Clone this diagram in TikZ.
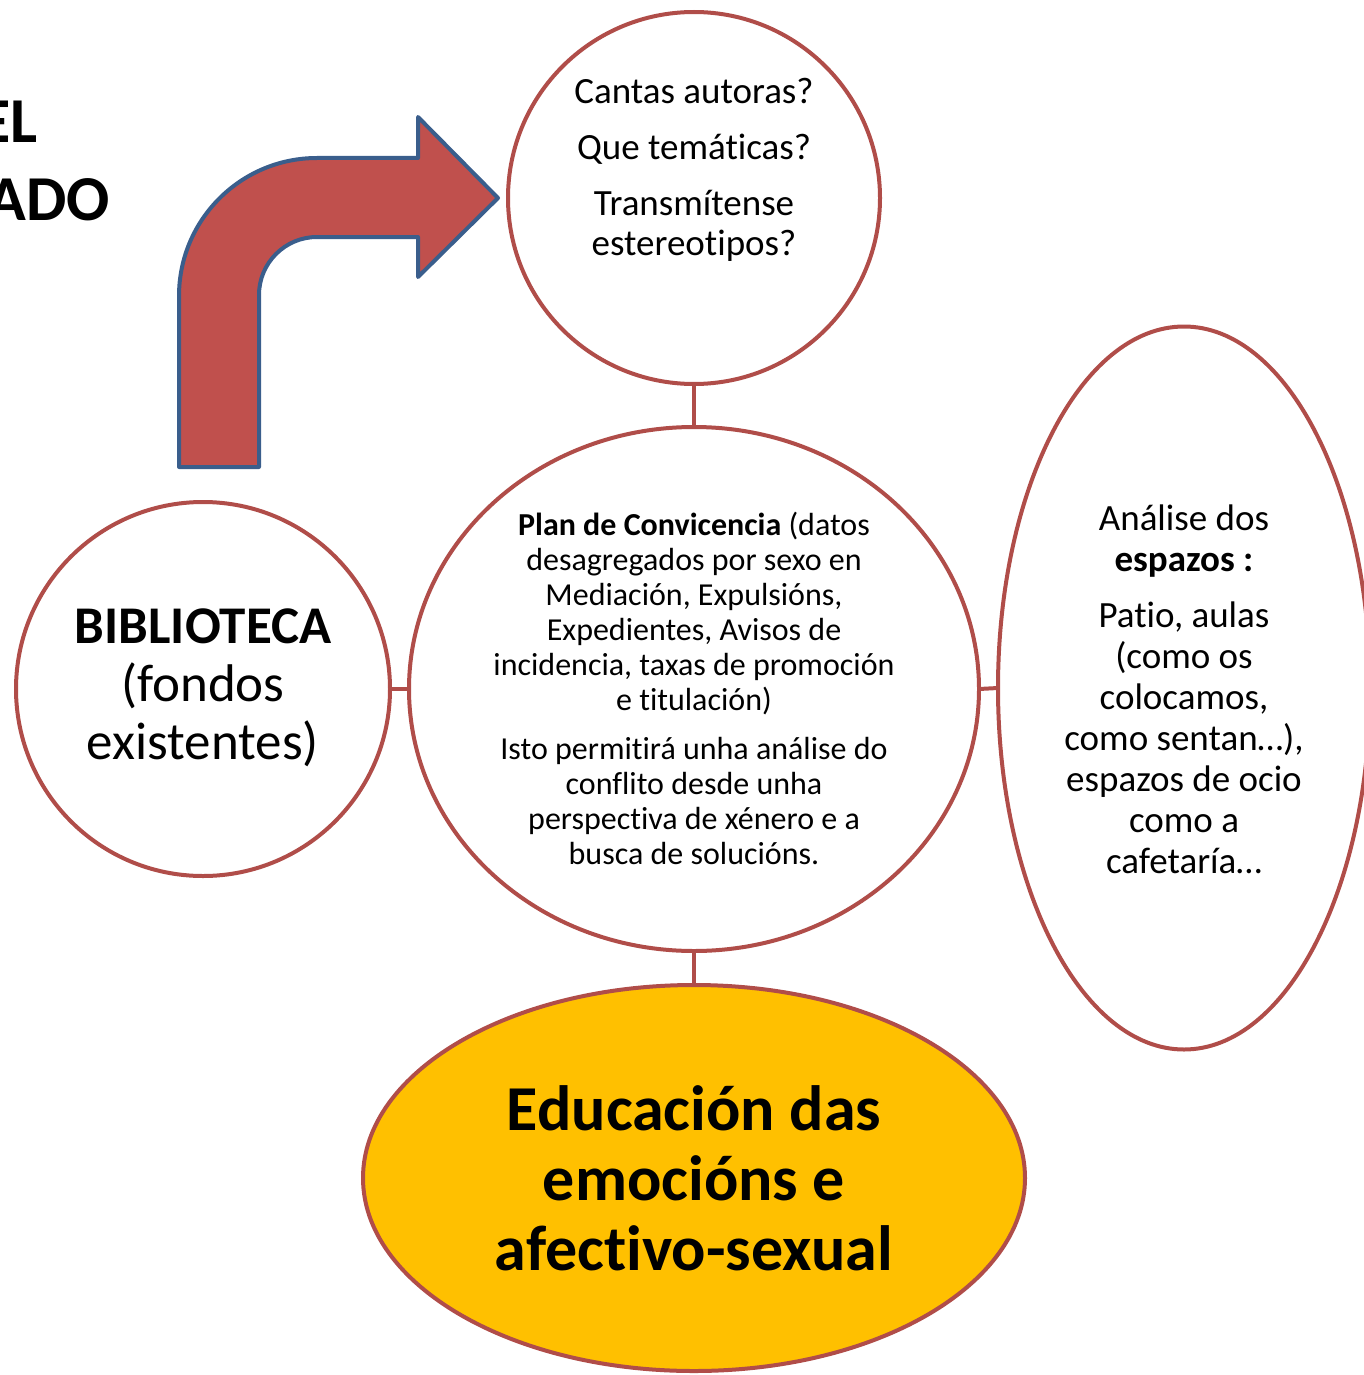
\documentclass[tikz,border=0pt]{standalone}
\usepackage{fontspec}
\setmainfont{Carlito}[RawFeature={-liga;-clig;-calt;-dlig;-rlig}]
\usetikzlibrary{shapes.geometric}
\definecolor{ringc}{HTML}{B04D49}
\definecolor{arrowred}{HTML}{C0504D}
\definecolor{arrowblue}{HTML}{3A5E8C}
\definecolor{goldc}{HTML}{FFC000}
\begin{document}
\begin{tikzpicture}[x=1pt,y=-1pt,
  ringnode/.style={ellipse, draw=ringc, line width=4pt, inner sep=0pt, outer sep=0pt, fill=white},
  conn/.style={draw=ringc, line width=4pt},
  txt/.style={align=center, inner sep=0pt, text=black}]
\useasboundingbox (0,0) rectangle (1364,1375);
\clip (0,0) rectangle (1364,1375);

% cut-off title text
\node[txt, anchor=base east, font=\fontsize{64}{70}\selectfont\bfseries] (t1) at (38,143) {EL};
\node[txt, anchor=base east, font=\fontsize{64}{70}\selectfont\bfseries] (t2) at (110,220) {ADO};

% bent arrow
\draw[line width=4pt, draw=arrowblue, fill=arrowred, line join=round]
  (179,467) -- (179,296) arc (180:270:138) -- (418,158) -- (418,117) -- (498,198)
  -- (418,277) -- (418,237) -- (317,237) arc (270:180:58) -- (259,467) -- cycle;

% shapes
\node[ringnode, minimum width=372pt, minimum height=372pt] (q) at (694,198) {};
\node[ringnode, minimum width=570pt, minimum height=524pt] (c) at (694,689) {};
\node[ringnode, minimum width=374pt, minimum height=374pt] (l) at (203,689) {};
\node[ringnode, minimum width=372pt, minimum height=723pt] (r) at (1184,688) {};
\node[ringnode, minimum width=662pt, minimum height=386pt, fill=goldc] (b) at (694,1178) {};

% connectors
\draw[conn] (q.south) -- (c.north);
\draw[conn] (c.west) -- (l.east);
\draw[conn] (c.east) -- (r.west);
\draw[conn] (c.south) -- (b.north);

% texts
\node[txt, font=\fontsize{37}{40}\selectfont] (qt) at (694,170)
  {Cantas autoras?\\[16pt] Que temáticas?\\[16pt] Transmítense\\ estereotipos?};
\node[txt, font=\fontsize{32}{35}\selectfont] (ct) at (694,688)
  {\textbf{Plan de Convicencia} (datos\\ desagregados por sexo en\\ Mediación, Expulsións,\\ Expedientes, Avisos de\\ incidencia, taxas de promoción\\ e titulación)\\[14pt] Isto permitirá unha análise do\\ conflito desde unha\\ perspectiva de xénero e a\\ busca de solucións.};
\node[txt, font=\fontsize{53}{58}\selectfont] (lt) at (203,688)
  {\textbf{BIBLIOTECA}\\ (fondos\\ existentes)};
\node[txt, font=\fontsize{37}{41}\selectfont] (rt) at (1184,689)
  {Análise dos\\ \textbf{espazos :}\\[15pt] Patio, aulas\\ (como os\\ colocamos,\\ como sentan…),\\ espazos de ocio\\ como a\\ cafetaría…};
\node[txt, font=\fontsize{64}{70}\selectfont\bfseries] (bt) at (694,1178)
  {Educación das\\ emocións e\\ afectivo-sexual};
\end{tikzpicture}
\end{document}
